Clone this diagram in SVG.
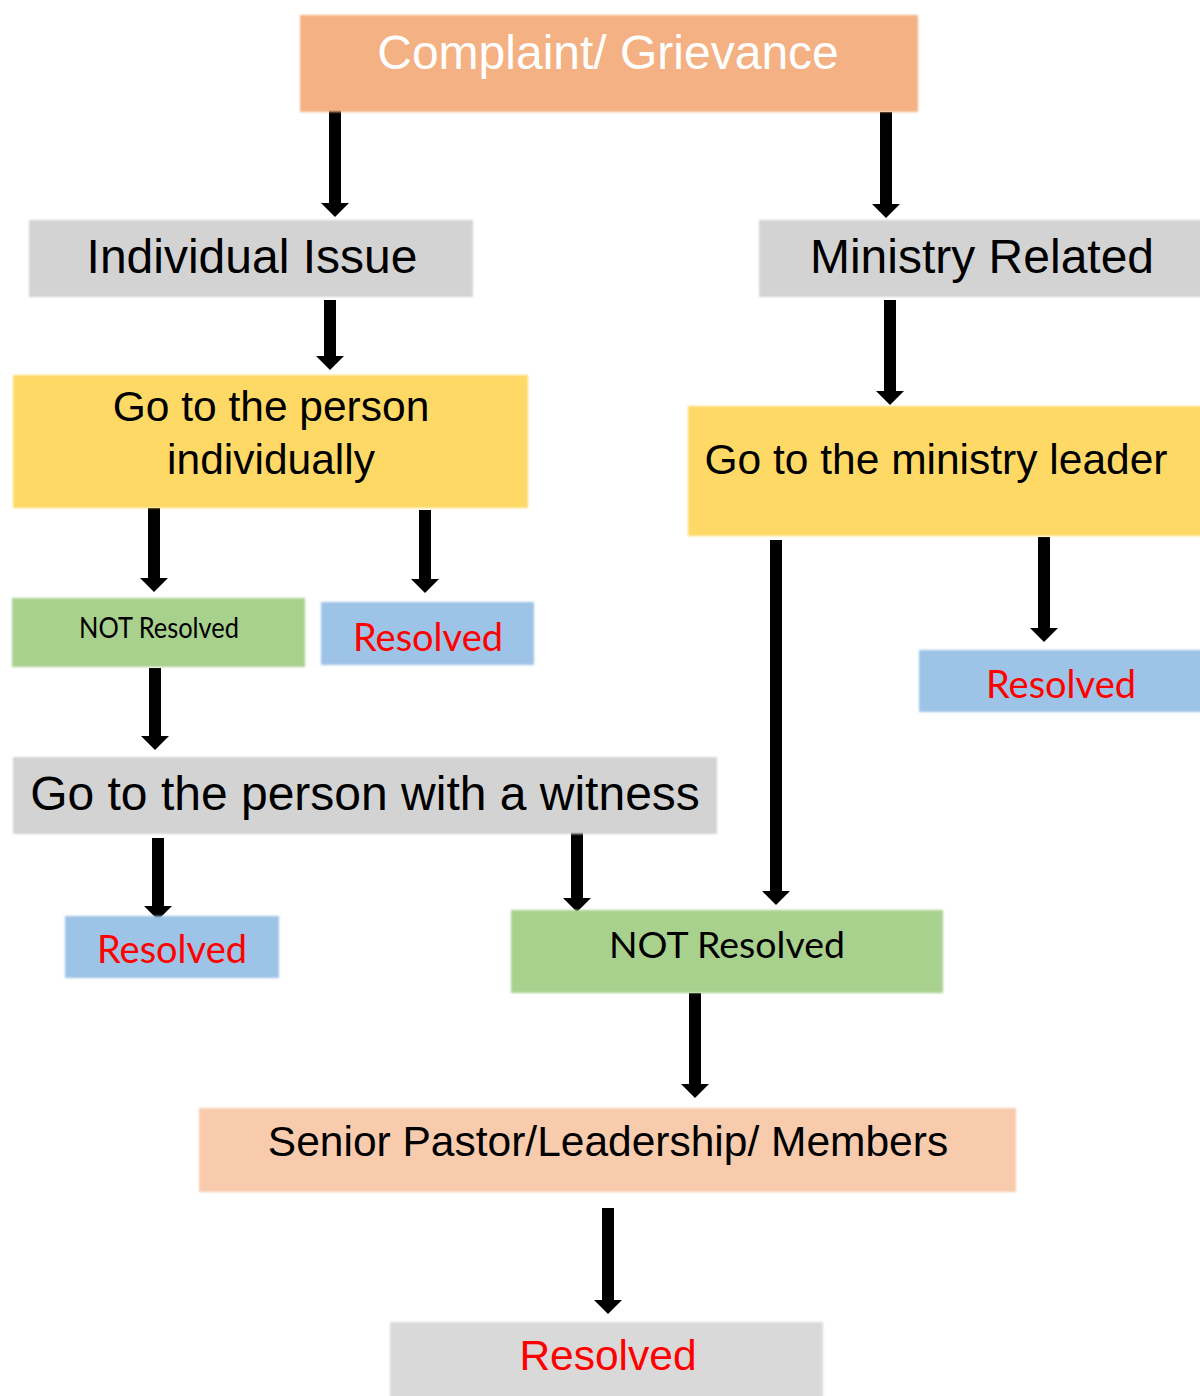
<svg xmlns="http://www.w3.org/2000/svg" width="1200" height="1396" viewBox="0 0 1200 1396">
<style>
.ar{font-family:"Liberation Sans",Arial,sans-serif;}
.cal{font-family:Lato,"Open Sans",sans-serif;}
.c{stroke:#000;stroke-width:12;fill:none;}
.red{fill:#FF0000;}
</style>
<defs>
<marker id="ah" markerUnits="userSpaceOnUse" viewBox="0 -14 14 28" refX="0" refY="0" markerWidth="14" markerHeight="28" orient="auto">
<path d="M0,-14 L14,0 L0,14 Z" fill="#000"/>
</marker>
<filter id="soft" x="-5%" y="-10%" width="110%" height="120%"><feGaussianBlur stdDeviation="1"/></filter>
</defs>
<rect width="1200" height="1396" fill="#fff"/>
<g id="connectors" class="c">
<line x1="335" y1="110" x2="335" y2="203" marker-end="url(#ah)"/>
<line x1="886" y1="112" x2="886" y2="204" marker-end="url(#ah)"/>
<line x1="330" y1="300" x2="330" y2="356" marker-end="url(#ah)"/>
<line x1="890" y1="300" x2="890" y2="391" marker-end="url(#ah)"/>
<line x1="154" y1="508" x2="154" y2="578" marker-end="url(#ah)"/>
<line x1="425" y1="510" x2="425" y2="579" marker-end="url(#ah)"/>
<line x1="776" y1="540" x2="776" y2="891" marker-end="url(#ah)"/>
<line x1="1044" y1="537" x2="1044" y2="628" marker-end="url(#ah)"/>
<line x1="155" y1="668" x2="155" y2="736" marker-end="url(#ah)"/>
<line x1="158" y1="838" x2="158" y2="906" marker-end="url(#ah)"/>
<line x1="577" y1="830" x2="577" y2="898" marker-end="url(#ah)"/>
<line x1="695" y1="993" x2="695" y2="1084" marker-end="url(#ah)"/>
<line x1="608" y1="1208" x2="608" y2="1300" marker-end="url(#ah)"/>
</g>
<g id="n-complaint"><rect x="300" y="15" width="618" height="97" fill="#F4B183" filter="url(#soft)"/><text class="ar" x="608" y="69" font-size="48" fill="#fff" text-anchor="middle">Complaint/ Grievance</text></g>
<g id="n-individual"><rect x="29" y="220" width="444" height="77" fill="#D3D3D3" filter="url(#soft)"/><text class="ar" x="252" y="273" font-size="48" text-anchor="middle">Individual Issue</text></g>
<g id="n-ministry"><rect x="759" y="220" width="445" height="77" fill="#D3D3D3" filter="url(#soft)"/><text class="ar" x="982" y="273" font-size="48" text-anchor="middle">Ministry Related</text></g>
<g id="n-person"><rect x="13" y="375" width="515" height="133" fill="#FFD966" filter="url(#soft)"/><text class="ar" x="271" y="421" font-size="42.5" text-anchor="middle">Go to the person</text><text class="ar" x="271" y="474" font-size="42.5" text-anchor="middle">individually</text></g>
<g id="n-leader"><rect x="688" y="406" width="516" height="130" fill="#FFD966" filter="url(#soft)"/><text class="ar" x="936" y="474" font-size="42.5" text-anchor="middle">Go to the ministry leader</text></g>
<g id="n-notres1"><rect x="12" y="598" width="293" height="69" fill="#A9D18E" filter="url(#soft)"/><text class="cal" x="159" y="638" font-size="29" text-anchor="middle" textLength="160" lengthAdjust="spacingAndGlyphs">NOT Resolved</text></g>
<g id="n-res1"><rect x="321" y="602" width="213" height="63" fill="#9DC3E6" filter="url(#soft)"/><text class="cal red" x="428" y="651" font-size="38" text-anchor="middle" textLength="150" lengthAdjust="spacingAndGlyphs">Resolved</text></g>
<g id="n-res2"><rect x="919" y="650" width="285" height="62" fill="#9DC3E6" filter="url(#soft)"/><text class="cal red" x="1061" y="698" font-size="38" text-anchor="middle" textLength="150" lengthAdjust="spacingAndGlyphs">Resolved</text></g>
<g id="n-witness"><rect x="13" y="757" width="704" height="77" fill="#D3D3D3" filter="url(#soft)"/><text class="ar" x="365" y="810" font-size="48" text-anchor="middle">Go to the person with a witness</text></g>
<g id="n-res3"><rect x="65" y="916" width="214" height="62" fill="#9DC3E6" filter="url(#soft)"/><text class="cal red" x="172" y="963" font-size="38" text-anchor="middle" textLength="150" lengthAdjust="spacingAndGlyphs">Resolved</text></g>
<g id="n-notres2"><rect x="511" y="910" width="432" height="83" fill="#A9D18E" filter="url(#soft)"/><text class="cal" x="727" y="958" font-size="37" text-anchor="middle" textLength="236" lengthAdjust="spacingAndGlyphs">NOT Resolved</text></g>
<g id="n-senior"><rect x="199" y="1108" width="817" height="84" fill="#F8CBAD" filter="url(#soft)"/><text class="ar" x="608" y="1156" font-size="42.5" text-anchor="middle">Senior Pastor/Leadership/ Members</text></g>
<g id="n-final"><rect x="390" y="1322" width="433" height="80" fill="#D9D9D9" filter="url(#soft)"/><text class="ar red" x="608" y="1370" font-size="42.5" text-anchor="middle">Resolved</text></g>
</svg>
